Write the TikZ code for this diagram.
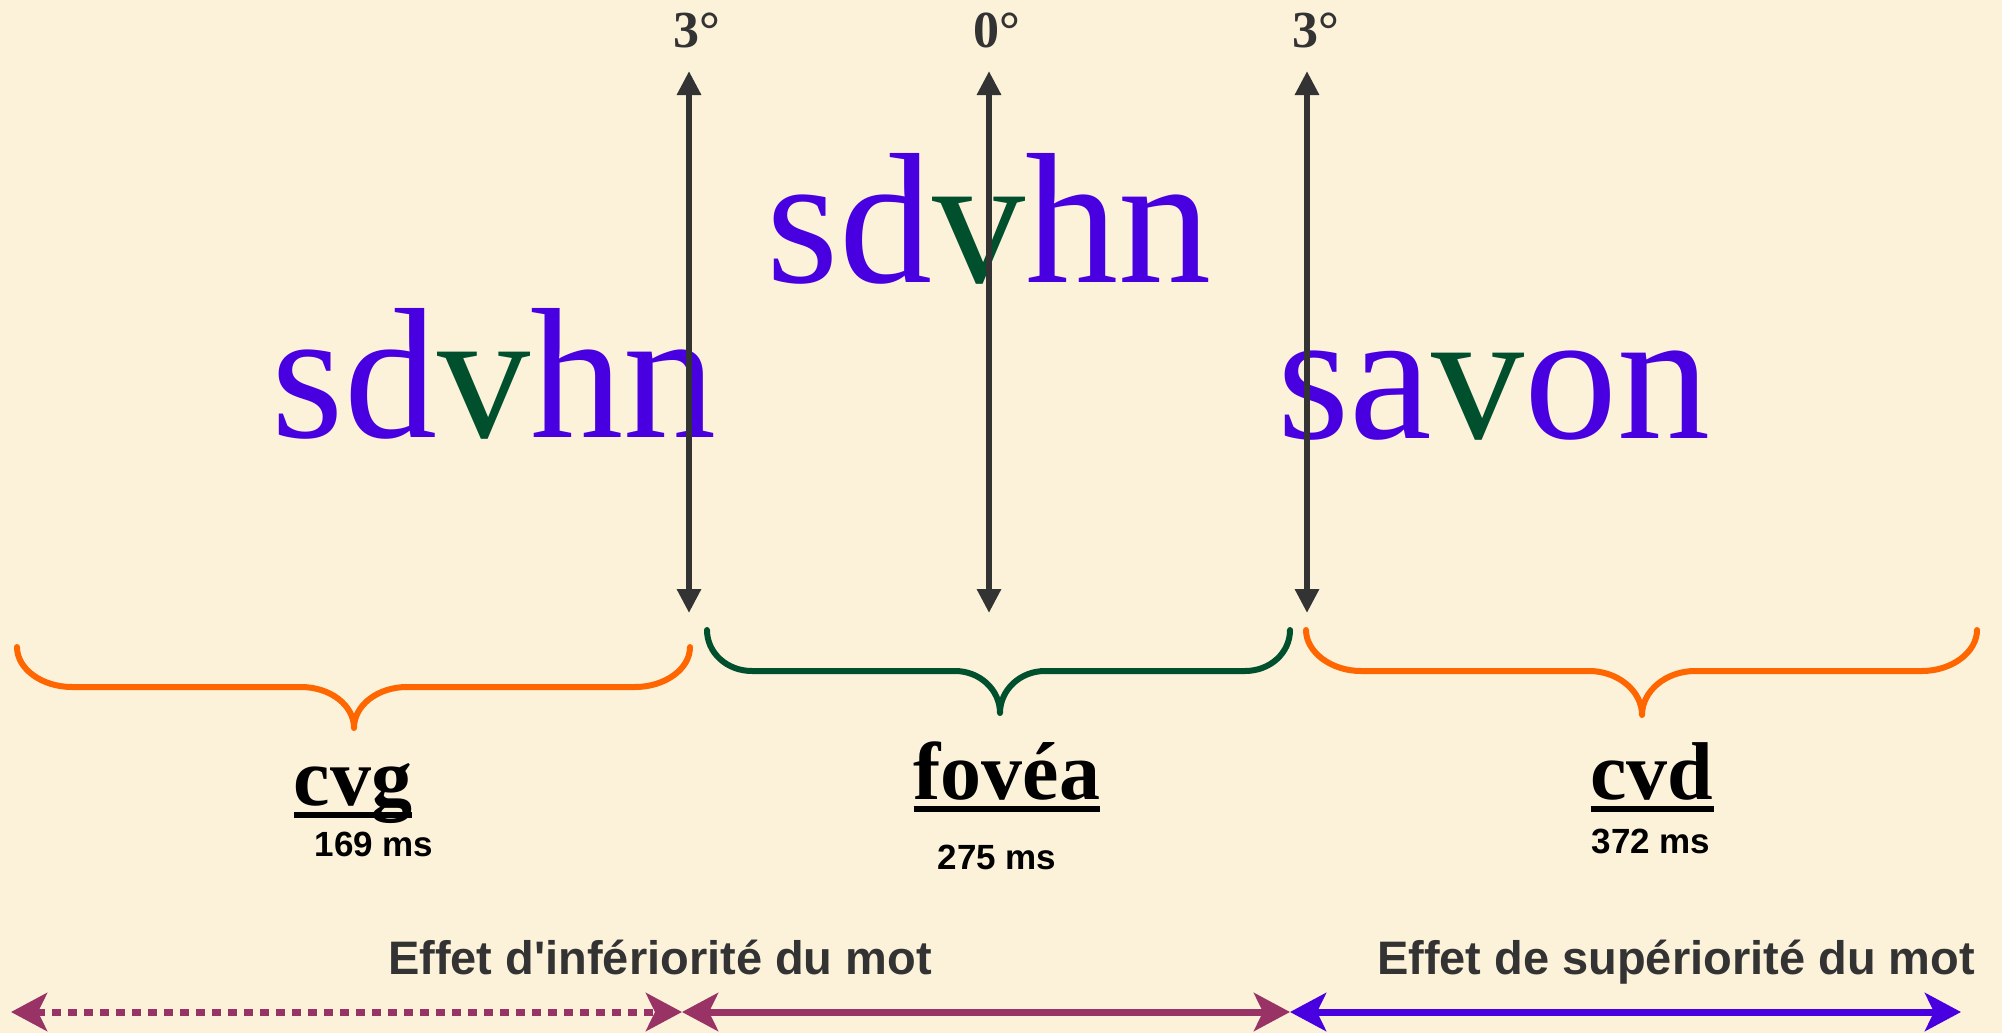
\documentclass[tikz,border=0pt]{standalone}
\usepackage{fontspec}
\setmainfont{Liberation Serif}
\newfontfamily\arialf{Liberation Sans}
\usetikzlibrary{arrows.meta}
\definecolor{bgcol}{RGB}{252,242,218}
\definecolor{wblue}{RGB}{72,0,224}
\definecolor{wgreen}{RGB}{0,80,46}
\definecolor{bracegreen}{RGB}{0,80,46}
\definecolor{braceorange}{RGB}{255,102,0}
\definecolor{darkg}{RGB}{51,51,51}
\definecolor{purp}{RGB}{153,51,102}
\tikzset{
  txt/.style={inner sep=0pt, outer sep=0pt, anchor=base},
  bigword/.style={txt, text=wblue, font=\fontsize{186}{200}\selectfont},
  deg/.style={txt, text=darkg, font=\fontsize{52}{60}\selectfont\bfseries},
  region/.style={txt, text=black, font=\fontsize{82}{90}\selectfont\bfseries},
  ms/.style={txt, text=black, font=\arialf\fontsize{35}{40}\selectfont\bfseries},
  effet/.style={txt, text=darkg, font=\arialf\fontsize{47}{52}\selectfont\bfseries},
  vaxis/.style={draw=darkg, line width=6pt, {Triangle[length=24pt,width=23pt]}-{Triangle[length=24pt,width=23pt]}},
  bracepath/.style={line width=6pt, line cap=round, line join=round},
  uline/.style={line width=6pt},
  effarrow/.style={line width=7pt, {Stealth[length=36pt,width=38pt,inset=9pt]}-{Stealth[length=36pt,width=38pt,inset=9pt]}}
}
\begin{document}
\begin{tikzpicture}[x=1pt,y=-1pt]
\fill[bgcol] (0,0) rectangle (2002,1033);
\useasboundingbox (0,0) rectangle (2002,1033);

% degree labels
\node[deg] (d1) at (697,48) {3°};
\node[deg] (d2) at (997,48) {0°};
\node[deg] (d3) at (1316,48) {3°};

% big words
\node[bigword] (w1) at (494,437) {sd\textcolor{wgreen}{v}hn};
\node[bigword] (w2) at (989,282) {sd\textcolor{wgreen}{v}hn};
\node[bigword] (w3) at (1494,438) {sa\textcolor{wgreen}{v}on};

% vertical axes
\coordinate (a1t) at (689,71);  \coordinate (a1b) at (689,613);
\coordinate (a2t) at (989,71);  \coordinate (a2b) at (989,613);
\coordinate (a3t) at (1307,71); \coordinate (a3b) at (1307,613);
\draw[vaxis] (a1t) -- (a1b);
\draw[vaxis] (a2t) -- (a2b);
\draw[vaxis] (a3t) -- (a3b);

% braces
\draw[bracepath, braceorange] (17,647) .. controls (17,669) and (42,687) .. (72,687) -- (301,687)
  .. controls (330,687) and (354,705) .. (354,728) .. controls (354,705) and (378,687) .. (407,687)
  -- (635,687) .. controls (665,687) and (690,669) .. (690,647);
\draw[bracepath, bracegreen] (707,630) .. controls (707,653) and (727,671) .. (752,671) -- (955,671)
  .. controls (980,671) and (1000,690) .. (1000,713) .. controls (1000,690) and (1020,671) .. (1045,671)
  -- (1245,671) .. controls (1270,671) and (1290,653) .. (1290,630);
\draw[bracepath, braceorange] (1306,630) .. controls (1306,652) and (1331,671) .. (1361,671) -- (1589,671)
  .. controls (1618,671) and (1642,691) .. (1642,715) .. controls (1642,691) and (1666,671) .. (1695,671)
  -- (1922,671) .. controls (1952,671) and (1977,652) .. (1977,630);

% region labels
\node[region] (r1) at (353,805) {cvg};
\node[region] (r2) at (1007,799) {fovéa};
\node[region] (r3) at (1652,799) {cvd};
\draw[uline] ([yshift=-10pt]r1.base west) -- ([yshift=-10pt]r1.base east);
\draw[uline] ([yshift=-10pt]r2.base west) -- ([yshift=-10pt]r2.base east);
\draw[uline] ([yshift=-10pt]r3.base west) -- ([yshift=-10pt]r3.base east);

% times
\node[ms] (t1) at (374,856) {169 ms};
\node[ms] (t2) at (997,869) {275 ms};
\node[ms] (t3) at (1651,853) {372 ms};

% effects
\node[effet] (e1) at (660,974) {Effet d'infériorité du mot};
\node[effet] (e2) at (1676,974) {Effet de supériorité du mot};

\coordinate (b0) at (11,1012);
\coordinate (b1) at (682,1012);
\coordinate (b2) at (1290,1012);
\coordinate (b3) at (1961,1012);
\draw[effarrow, purp, dash pattern=on 9pt off 7pt] (b0) -- (b1);
\draw[effarrow, purp] (b1) -- (b2);
\draw[effarrow, wblue] (b2) -- (b3);
\end{tikzpicture}
\end{document}
